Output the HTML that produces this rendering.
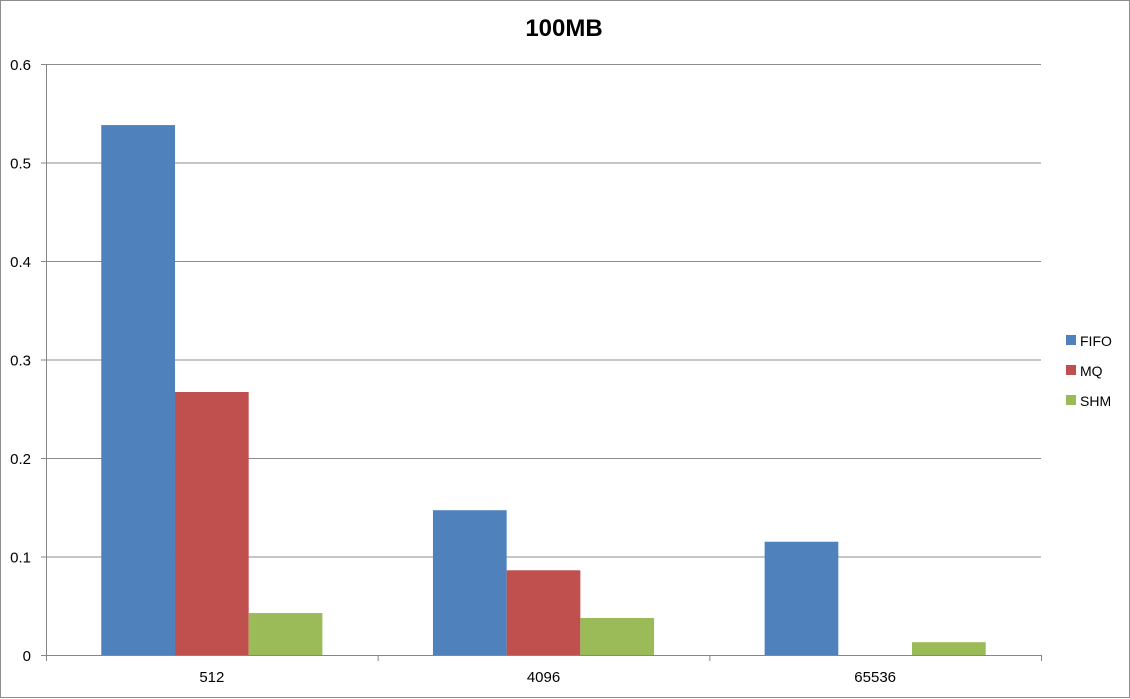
<!DOCTYPE html>
<html><head><meta charset="utf-8"><style>
body{margin:0;background:#fff}
svg{display:block;font-family:"Liberation Sans",Calibri,sans-serif}
</style></head><body>
<svg id="chart" width="1130" height="699" viewBox="0 0 1130 699">
<rect x="0.5" y="0.5" width="1129" height="697" fill="#fff" stroke="#8c8c8c"/>
<text x="564" y="36" text-anchor="middle" font-size="24" font-weight="bold" fill="#000">100MB</text>
<g id="grid"></g><g id="bars"></g><g id="axes"></g>
<g id="legend"></g>
</svg>
<script>
const categories=["512","4096","65536"];
const seriesNames=["FIFO","MQ","SHM"];
const fifo=[0.538,0.147,0.115];
const mq=[0.267,0.086,0];
const shm=[0.0426,0.0376,0.013];
const yTicks=[0,0.1,0.2,0.3,0.4,0.5,0.6];
const colors=["#4F81BD","#C0504D","#9BBB59"];
const series=[fifo,mq,shm];
const NS="http://www.w3.org/2000/svg";
const L=46,R=1041,T=64,B=655,yMax=0.6;
const y=v=>B-(v/yMax)*(B-T);
const cw=(R-L)/categories.length;
const bw=cw/4.5;
function mk(tag,attrs,parent,text){const e=document.createElementNS(NS,tag);for(const k in attrs)e.setAttribute(k,attrs[k]);if(text!==undefined)e.textContent=text;document.getElementById(parent).appendChild(e);return e;}
yTicks.forEach(t=>{
  const g=mk('line',{x1:L,x2:R,y1:y(t)+0.5,y2:y(t)+0.5,stroke:t===0?'#868686':'#8c8c8c','stroke-width':1},'grid');
  
  
  const tk=mk('line',{x1:L-5,x2:L,y1:y(t)+0.5,y2:y(t)+0.5,stroke:'#868686'},'axes');
  
  
  const lb=mk('text',{x:31,y:y(t)+6,'text-anchor':'end','font-size':15,fill:'#000'},'axes',String(t));
  
  
});
const ax=mk('line',{x1:L+0.5,x2:L+0.5,y1:T,y2:B,stroke:'#868686'},'axes');


for(let i=0;i<=categories.length;i++){
  const x=L+i*cw;
  const tk=mk('line',{x1:x+0.5,x2:x+0.5,y1:B,y2:B+6,stroke:'#868686'},'axes');
  
  
}
categories.forEach((c,i)=>{
  const lb=mk('text',{x:L+cw*(i+0.5),y:682,'text-anchor':'middle','font-size':15,fill:'#000'},'axes',c);
  
  
  series.forEach((s,j)=>{
    const x0=L+cw*i+0.75*bw+j*bw;
    const r=mk('rect',{x:x0,y:y(s[i]),width:bw,height:B-y(s[i]),fill:colors[j]},'bars');
    
    
  });
});
seriesNames.forEach((n,j)=>{
  const yy=340+j*30;
  const s=mk('rect',{x:1066,y:yy-5,width:10,height:10,fill:colors[j]},'legend');
  
  
  const t=mk('text',{x:1080,y:yy+6,'font-size':14,fill:'#000'},'legend',n);
  
  
});
</script>
</body></html>
